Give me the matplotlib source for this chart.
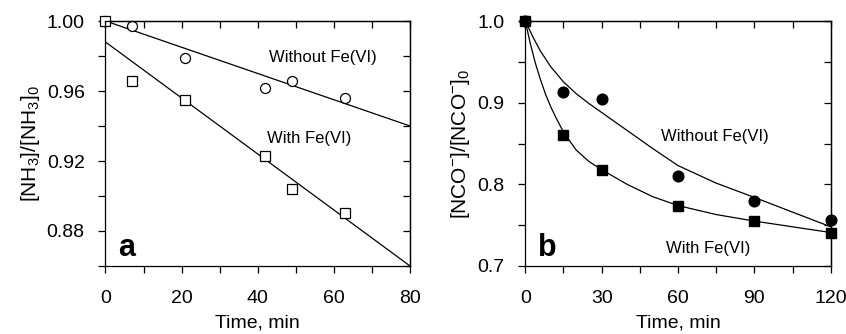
import matplotlib
matplotlib.use("Agg")
import matplotlib.pyplot as plt
from matplotlib.ticker import MultipleLocator, FormatStrFormatter

plt.rcParams['font.family'] = ['Liberation Sans', 'DejaVu Sans']
plt.rcParams['mathtext.default'] = 'regular'

# panel a: NH3 data
t_a = [0, 7, 21, 42, 49, 63]
nh3_without = [1.000, 0.997, 0.979, 0.962, 0.9655, 0.956]
nh3_with = [1.000, 0.9657, 0.955, 0.923, 0.904, 0.8905]
# fitted lines (end points)
fit_t_a = [0, 80]
fit_nh3_without = [1.000, 0.940]
fit_nh3_with = [0.988, 0.860]

# panel b: NCO- data
t_b = [0, 15, 30, 60, 90, 120]
nco_without = [1.000, 0.913, 0.9045, 0.8106, 0.780, 0.756]
nco_with = [1.000, 0.8604, 0.8176, 0.773, 0.755, 0.7404]
# model curves
curve_t_without = [0, 3, 6, 10, 15, 20, 25, 30, 40, 50, 60, 75, 90, 105, 120]
curve_without = [1.0, 0.9805, 0.963, 0.944, 0.9255, 0.911, 0.899, 0.888,
                 0.866, 0.844, 0.823, 0.8015, 0.784, 0.766, 0.748]
curve_t_with = [0, 2, 4, 6, 8, 10, 12, 15, 20, 25, 30, 40, 50, 60, 75, 90, 105, 120]
curve_with = [1.0, 0.972, 0.948, 0.928, 0.910, 0.895, 0.882, 0.864, 0.842,
              0.828, 0.818, 0.800, 0.785, 0.774, 0.763, 0.755, 0.748, 0.741]

fig = plt.figure(figsize=(8.46, 3.34), dpi=100)
ax1 = fig.add_axes([0.1247, 0.2036, 0.360, 0.7335])
ax2 = fig.add_axes([0.6209, 0.2036, 0.361, 0.7335])

lw = 0.9
tick_fs = 14
lab_fs = 14
ylab_fs = 15
txt_fs = 12


def style_axes(ax, xmaj, xmin, ymaj, ymin, yfmt):
    ax.xaxis.set_major_locator(MultipleLocator(xmaj))
    ax.xaxis.set_minor_locator(MultipleLocator(xmin))
    ax.yaxis.set_major_locator(MultipleLocator(ymaj))
    ax.yaxis.set_minor_locator(MultipleLocator(ymin))
    ax.yaxis.set_major_formatter(FormatStrFormatter(yfmt))
    ax.tick_params(which='both', direction='out', length=5, width=lw,
                   top=False, right=False, labelsize=tick_fs)
    ax.tick_params(axis='x', which='major', pad=12.5)
    ax.tick_params(axis='y', which='major', pad=10)
    for sp in ax.spines.values():
        sp.set_linewidth(lw)
    # inward ticks on top and right
    top = ax.secondary_xaxis('top')
    top.xaxis.set_major_locator(MultipleLocator(xmaj))
    top.xaxis.set_minor_locator(MultipleLocator(xmin))
    top.tick_params(which='both', direction='in', length=5, width=lw, labeltop=False)
    top.spines['top'].set_linewidth(lw)
    right = ax.secondary_yaxis('right')
    right.yaxis.set_major_locator(MultipleLocator(ymaj))
    right.yaxis.set_minor_locator(MultipleLocator(ymin))
    right.tick_params(which='both', direction='in', length=5, width=lw, labelright=False)
    right.spines['right'].set_linewidth(lw)


# panel a
ax1.plot(fit_t_a, fit_nh3_without, color='black', lw=lw)
ax1.plot(fit_t_a, fit_nh3_with, color='black', lw=lw)
ax1.plot(t_a, nh3_without, 'o', ms=7.2, mfc='white', mec='black', mew=lw, clip_on=False)
ax1.plot(t_a, nh3_with, 's', ms=6.6, mfc='white', mec='black', mew=lw, clip_on=False)
ax1.set_xlim(0, 80)
ax1.set_ylim(0.86, 1.00)
style_axes(ax1, 20, 10, 0.04, 0.02, '%.2f')
ax1.set_xlabel('Time, min', fontsize=lab_fs, labelpad=5)
ax1.set_ylabel('[NH$_3$]/[NH$_3$]$_0$', fontsize=ylab_fs, labelpad=3)
ax1.text(57.1, 0.9794, 'Without Fe(VI)', fontsize=txt_fs, ha='center', va='center')
ax1.text(53.6, 0.9331, 'With Fe(VI)', fontsize=txt_fs, ha='center', va='center')
ax1.text(0.042, 0.039, 'a', transform=ax1.transAxes, fontsize=22,
         fontweight='bold', ha='left', va='baseline')

# panel b
ax2.plot(curve_t_without, curve_without, color='black', lw=lw)
ax2.plot(curve_t_with, curve_with, color='black', lw=lw)
ax2.plot(t_b, nco_without, 'o', ms=7.7, color='black', clip_on=False)
ax2.plot(t_b, nco_with, 's', ms=6.5, color='black', clip_on=False)
ax2.set_xlim(0, 120)
ax2.set_ylim(0.7, 1.0)
style_axes(ax2, 30, 15, 0.1, 0.05, '%.1f')
ax2.set_xlabel('Time, min', fontsize=lab_fs, labelpad=5)
ax2.set_ylabel('[NCO$^{-}$]/[NCO$^{-}$]$_0$', fontsize=ylab_fs, labelpad=4)
ax2.text(74.5, 0.8588, 'Without Fe(VI)', fontsize=txt_fs, ha='center', va='center')
ax2.text(71.8, 0.7217, 'With Fe(VI)', fontsize=txt_fs, ha='center', va='center')
ax2.text(0.0426, 0.039, 'b', transform=ax2.transAxes, fontsize=22,
         fontweight='bold', ha='left', va='baseline')

fig.savefig('out.png', dpi=100)
